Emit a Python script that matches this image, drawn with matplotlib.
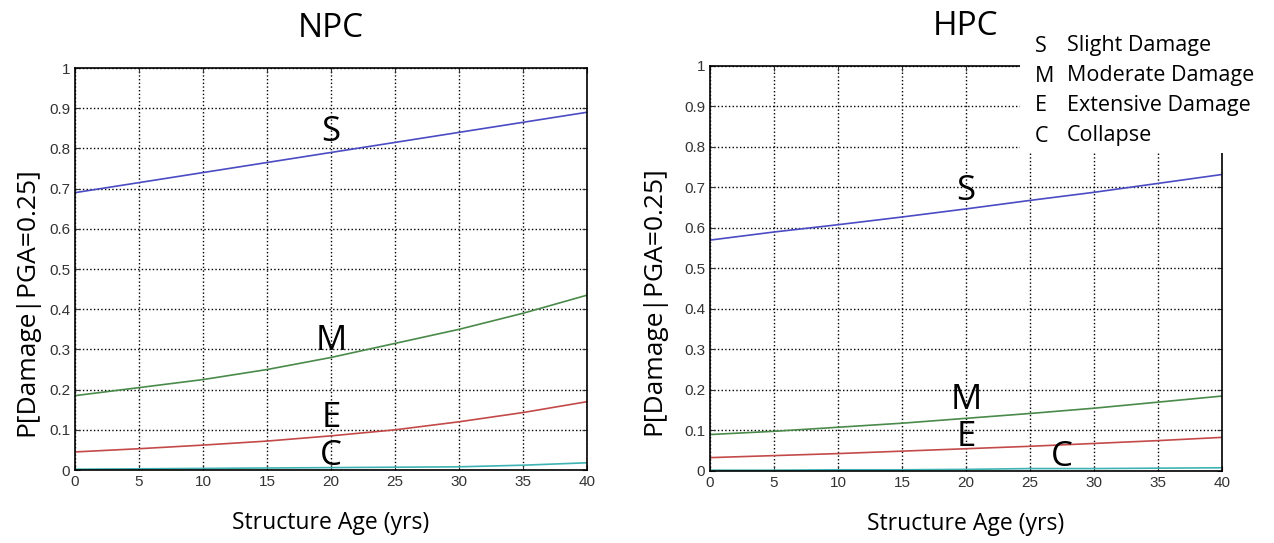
import matplotlib
matplotlib.use('Agg')
import matplotlib.pyplot as plt
from matplotlib.patches import Rectangle

ages = [0, 5, 10, 15, 20, 25, 30, 35, 40]

npc_s = [0.690, 0.715, 0.740, 0.765, 0.790, 0.815, 0.840, 0.865, 0.890]
npc_m = [0.185, 0.205, 0.225, 0.250, 0.280, 0.315, 0.350, 0.390, 0.435]
npc_e = [0.045, 0.053, 0.062, 0.072, 0.085, 0.100, 0.120, 0.143, 0.170]
npc_c = [0.002, 0.003, 0.004, 0.005, 0.006, 0.007, 0.008, 0.012, 0.018]

hpc_s = [0.570, 0.590, 0.608, 0.627, 0.647, 0.668, 0.688, 0.710, 0.732]
hpc_m = [0.090, 0.098, 0.108, 0.118, 0.130, 0.142, 0.155, 0.170, 0.185]
hpc_e = [0.033, 0.038, 0.043, 0.049, 0.055, 0.061, 0.068, 0.075, 0.083]
hpc_c = [0.002, 0.002, 0.003, 0.003, 0.004, 0.006, 0.006, 0.007, 0.008]

states = ['S', 'M', 'E', 'C']
state_names = ['Slight Damage', 'Moderate Damage', 'Extensive Damage', 'Collapse']
colors = ['#4b4bc4', '#4a8a4a', '#c44a4a', '#3fb3b3']

# where the S/M/E/C letters sit (x, y) in data units
npc_lbl = [(20, 0.84), (20, 0.32), (20, 0.13), (20, 0.035)]
hpc_lbl = [(20, 0.69), (20, 0.175), (20, 0.085), (27.5, 0.035)]

txt_font = ['Open Sans', 'DejaVu Sans']
tick_font = ['Liberation Sans Narrow', 'Liberation Sans', 'DejaVu Sans']

fig = plt.figure(figsize=(12.74, 5.43), dpi=100)
ax1 = fig.add_axes([0.0589, 0.1344, 0.4019, 0.7403])
ax2 = fig.add_axes([0.5573, 0.1326, 0.4019, 0.7460])

panels = [(ax1, 'NPC', [npc_s, npc_m, npc_e, npc_c], npc_lbl, -0.07),
          (ax2, 'HPC', [hpc_s, hpc_m, hpc_e, hpc_c], hpc_lbl, -0.085)]

for ax, title, series, lbls, ylab_x in panels:
    for vals, col in zip(series, colors):
        ax.plot(ages, vals, color=col, lw=1.2)
    for st, (lx, ly) in zip(states, lbls):
        ax.text(lx, ly, st, ha='center', va='center', fontsize=25, family=txt_font)
    ax.set_xlim(0, 40)
    ax.set_ylim(0, 1)
    ax.set_xticks(range(0, 41, 5))
    ax.set_yticks([i / 10 for i in range(11)])
    ax.set_yticklabels(['0'] + ['0.%d' % i for i in range(1, 10)] + ['1'])
    ax.grid(True, color='black', ls=':', lw=1)
    ax.tick_params(direction='in', top=True, right=True, labelsize=11, colors='#333333')
    for lab in ax.get_xticklabels() + ax.get_yticklabels():
        lab.set_family(tick_font)
    for sp in ax.spines.values():
        sp.set_linewidth(1.2)
    ax.set_xlabel('Structure Age (yrs)', fontsize=16.5, family=txt_font, labelpad=16)
    ax.set_ylabel('P[Damage|PGA=0.25]', fontsize=19, family=txt_font)
    ax.yaxis.set_label_coords(ylab_x, 0.42)
    ax.set_title(title, fontsize=24, family=txt_font, pad=22)

# white box with the state key, sitting over the corner of the HPC frame
fig.patches.append(Rectangle((1020 / 1274, 1 - 153 / 543), 254 / 1274, 125 / 543,
                             transform=fig.transFigure, facecolor='white',
                             edgecolor='none', zorder=5))
for i, (st, name) in enumerate(zip(states, state_names)):
    y = 1 - (46 + i * 30) / 543
    fig.text(1035 / 1274, y, st, fontsize=15.5, family=txt_font, va='center', zorder=6)
    fig.text(1067 / 1274, y, name, fontsize=15.5, family=txt_font, va='center', zorder=6)

fig.savefig('out.png', dpi=100)
